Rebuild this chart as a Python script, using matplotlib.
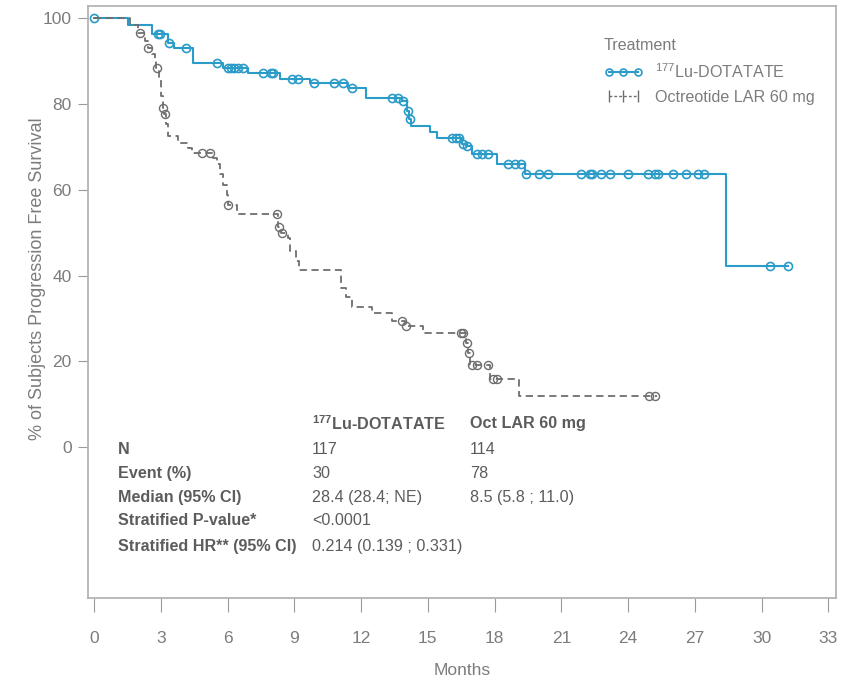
import numpy as np
import matplotlib.pyplot as plt
from matplotlib.lines import Line2D

plt.rcParams['font.family'] = ['Liberation Sans', 'DejaVu Sans']
plt.rcParams['mathtext.fontset'] = 'custom'
plt.rcParams['mathtext.rm'] = 'Liberation Sans'
plt.rcParams['mathtext.bf'] = 'Liberation Sans:bold'

# Kaplan-Meier steps (month, survival % after the step)
lu_times = [0, 1.5, 2.6, 3.3, 3.6, 4.45, 5.8, 6.9, 8.35, 9.7, 11.4, 12.2,
            13.85, 14.05, 14.15, 14.25, 15.1, 15.4, 16.55, 16.7, 17.0, 18.1, 19.35, 28.4]
lu_surv = [100, 98.3, 96.2, 94.3, 93.0, 89.6, 88.4, 87.2, 85.7, 84.9, 83.7, 81.4,
           80.7, 78.4, 76.5, 74.9, 73.5, 72.1, 70.7, 70.2, 68.4, 66.0, 63.7, 42.3]
lu_end = 31.2
lu_censor = [0, 2.85, 2.97, 3.37, 4.15, 5.5, 6.0, 6.15, 6.3, 6.45, 6.7, 7.6, 7.95, 8.05,
             8.9, 9.15, 9.9, 10.8, 11.2, 11.6, 13.4, 13.65, 13.9, 14.1, 14.2, 16.1, 16.25,
             16.4, 16.6, 16.75, 17.2, 17.45, 17.7, 18.6, 18.9, 19.2, 19.4, 20.0, 20.4, 21.9,
             22.3, 22.4, 22.8, 23.2, 24.0, 24.9, 25.2, 25.35, 26.0, 26.6, 27.15, 27.4, 30.4, 31.2]

oct_times = [0, 1.6, 1.95, 2.3, 2.4, 2.6, 2.74, 2.8, 2.9, 3.0, 3.08, 3.15, 3.25, 3.33,
             3.75, 4.2, 4.4, 5.35, 5.5, 5.65, 5.8, 5.95, 6.03, 6.4, 8.25, 8.4, 8.7, 8.8,
             9.05, 9.2, 11.1, 11.3, 11.6, 12.5, 13.4, 13.95, 14.8, 16.7, 16.8, 16.9, 17.8, 19.1]
oct_surv = [100, 98.3, 96.6, 94.6, 93.0, 91.6, 90.0, 88.4, 86.0, 81.9, 79.1, 77.7, 75.3, 72.6,
            71.0, 69.8, 68.6, 67.4, 66.0, 63.7, 61.2, 58.8, 56.5, 54.4, 51.2, 50.0, 48.8, 45.8,
            43.5, 41.2, 37.2, 34.9, 32.6, 31.2, 29.5, 28.2, 26.7, 24.2, 21.9, 19.1, 15.8, 11.8]
oct_end = 25.3
oct_censor = [2.07, 2.43, 2.83, 3.1, 3.2, 4.85, 5.2, 6.03, 8.2, 8.3, 8.45, 13.85, 14.0,
              16.5, 16.6, 16.75, 16.85, 17.0, 17.2, 17.7, 17.95, 18.1, 24.95, 25.2]

table_rows = ['N', 'Event (%)', 'Median (95% CI)', 'Stratified P-value*', 'Stratified HR** (95% CI)']
lu_col = ['117', '30', '28.4 (28.4; NE)', '<0.0001', '0.214 (0.139 ; 0.331)']
oct_col = ['114', '78', '8.5 (5.8 ; 11.0)', '', '']

blue = '#2b9bc8'
gray = '#6e6e6e'
txt = '#5c5c5c'
light = '#7c7c7c'


def surv_at(times, surv, t):
    idx = np.searchsorted(times, t, side='right') - 1
    return np.array(surv)[idx]


fig = plt.figure(figsize=(8.56, 6.82), dpi=100)
ax = fig.add_axes([0.103, 0.123, 0.874, 0.868])

ax.step(lu_times + [lu_end], lu_surv + [lu_surv[-1]], where='post', color=blue, lw=1.5)
ax.plot(lu_censor, surv_at(lu_times, lu_surv, lu_censor), 'o', mfc='none', mec=blue,
        ms=5.8, mew=1.2)

ax.step(oct_times + [oct_end], oct_surv + [oct_surv[-1]], where='post', color=gray, lw=1.3,
        dashes=(4, 2.5))
ax.plot(oct_censor, surv_at(oct_times, oct_surv, oct_censor), 'o', mfc='none', mec=gray,
        ms=5.8, mew=1.0)

ax.set_xlim(-0.27, 33.36)
ax.set_ylim(-35.2, 102.8)
ax.set_xticks(np.arange(0, 34, 3))
ax.set_yticks(np.arange(0, 101, 20))
ax.tick_params(axis='x', direction='out', length=10, pad=14, colors='#9a9a9a', labelcolor=light,
               labelsize=12.5)
ax.tick_params(axis='y', direction='out', length=7, pad=5, colors='#9a9a9a', labelcolor=light,
               labelsize=12.5)
for s in ax.spines.values():
    s.set_color('#b4b4b4')
    s.set_linewidth(1.3)

ax.set_xlabel('Months', color=light, fontsize=12.5, labelpad=12)
ax.set_ylabel('% of Subjects Progression Free Survival', color=light, fontsize=13)
ax.yaxis.set_label_coords(-0.057, 0.54)

# summary table inside the plot
fs = 11.6
ax.text(9.8, 5.4, r'$\mathbf{^{177}}$Lu-DOTATATE', color=txt, fontsize=fs, weight='bold', va='center')
ax.text(16.9, 5.4, 'Oct LAR 60 mg', color=txt, fontsize=fs, weight='bold', va='center')
row_y = [-0.5, -6.1, -11.7, -17.1, -23.1]
for y, lab, a, b in zip(row_y, table_rows, lu_col, oct_col):
    ax.text(1.08, y, lab, color=txt, fontsize=fs, weight='bold', va='center')
    ax.text(9.8, y, a, color=txt, fontsize=fs, va='center')
    ax.text(16.9, y, b, color=txt, fontsize=fs, va='center')

handles = [Line2D([], [], color=blue, lw=1.5, marker='o', mfc='none', mec=blue, ms=5, mew=1.2),
           Line2D([], [], color=gray, lw=1.0, ls=(0, (2, 1.5)), marker='|', ms=8, mew=1.0)]
leg = ax.legend(handles, [r'$^{177}$Lu-DOTATATE', 'Octreotide LAR 60 mg'], title='Treatment',
                loc='upper left', bbox_to_anchor=(0.67, 0.97), frameon=False, numpoints=3,
                fontsize=11.6, title_fontsize=11.6, alignment='left', handlelength=2.4,
                handletextpad=0.8, labelspacing=0.55)
for t in leg.get_texts():
    t.set_color(light)
leg.get_title().set_color(light)

fig.savefig('out.png', dpi=100)
